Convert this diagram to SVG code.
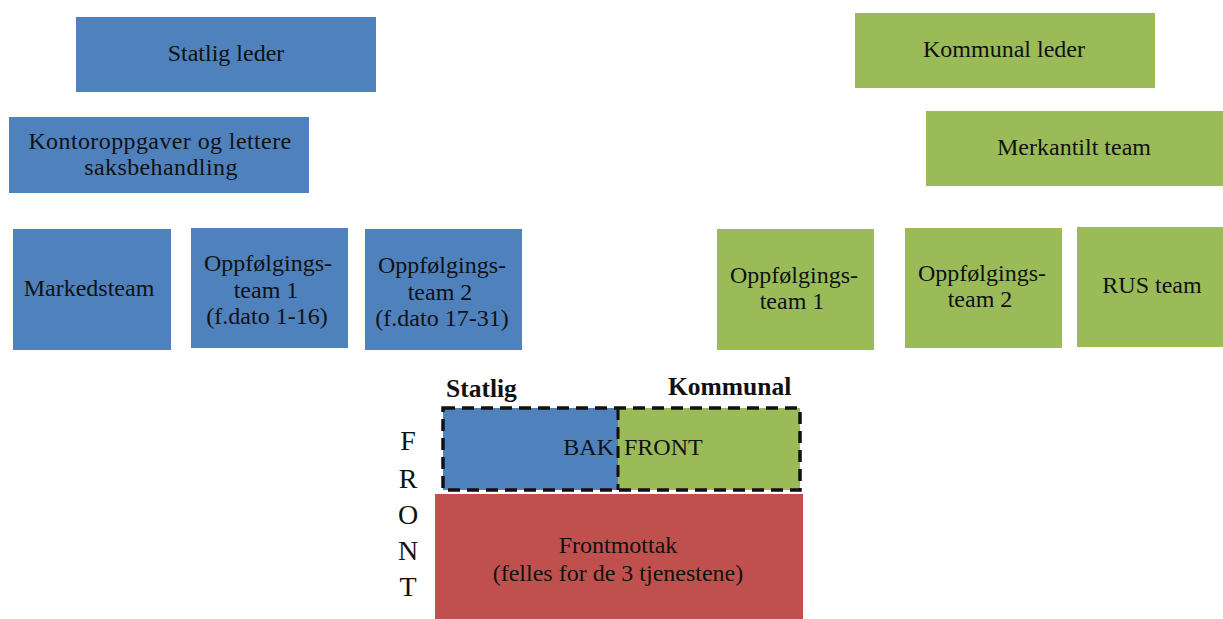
<svg xmlns="http://www.w3.org/2000/svg" width="1223" height="619" viewBox="0 0 1223 619">
<style>
.b{fill:#4F81BD}
.g{fill:#9BBB59}
.r{fill:#C0504D}
text{font-family:"Liberation Serif","Times New Roman",serif;font-size:24px;fill:#111;text-anchor:middle}
.hd{font-weight:bold;font-size:25.5px;text-anchor:start}
.fl{font-size:28px}
.dash{fill:none;stroke:#111;stroke-width:3.5;stroke-dasharray:12 7}
</style>
<rect width="1223" height="619" fill="#fff"/>
<g id="statlig-leder"><rect class="b" x="76" y="17" width="300" height="75"/><text x="226" y="61">Statlig leder</text></g>
<g id="kontoroppgaver"><rect class="b" x="9" y="117" width="300" height="76"/><text x="160" y="149" letter-spacing="0.4">Kontoroppgaver og lettere</text><text x="161" y="175" letter-spacing="0.4">saksbehandling</text></g>
<g id="markedsteam"><rect class="b" x="13" y="229" width="158" height="121"/><text x="89" y="296">Markedsteam</text></g>
<g id="stat-oppf1"><rect class="b" x="191" y="228" width="157" height="120"/><text x="268" y="271">Oppfølgings-</text><text x="266" y="298">team 1</text><text x="267" y="324">(f.dato 1-16)</text></g>
<g id="stat-oppf2"><rect class="b" x="365" y="229" width="157" height="121"/><text x="442" y="273">Oppfølgings-</text><text x="440" y="300">team 2</text><text x="442" y="326">(f.dato 17-31)</text></g>
<g id="kommunal-leder"><rect class="g" x="855" y="13" width="300" height="75"/><text x="1004" y="57">Kommunal leder</text></g>
<g id="merkantilt"><rect class="g" x="926" y="111" width="297" height="75"/><text x="1074" y="155">Merkantilt team</text></g>
<g id="kom-oppf1"><rect class="g" x="717" y="229" width="157" height="121"/><text x="794" y="283">Oppfølgings-</text><text x="792" y="309">team 1</text></g>
<g id="kom-oppf2"><rect class="g" x="905" y="228" width="157" height="120"/><text x="982" y="281">Oppfølgings-</text><text x="980" y="307">team 2</text></g>
<g id="rus"><rect class="g" x="1077" y="227" width="146" height="120"/><text x="1152" y="293">RUS team</text></g>
<g id="bak-front">
<rect class="b" x="443" y="408" width="175" height="82"/>
<rect class="g" x="618" y="408" width="182" height="82"/>
<rect class="dash" x="443" y="408" width="357" height="82"/>
<line x1="618" y1="408" x2="618" y2="490" stroke="#111" stroke-width="3" stroke-dasharray="12 7"/>
<text x="614" y="455" style="text-anchor:end">BAK</text>
<text x="624" y="455" style="text-anchor:start">FRONT</text>
<text class="hd" x="446" y="397">Statlig</text>
<text class="hd" x="668" y="395">Kommunal</text>
</g>
<g id="frontmottak"><rect class="r" x="435" y="494" width="368" height="125"/><text x="618" y="553">Frontmottak</text><text x="618" y="581">(felles for de 3 tjenestene)</text></g>
<g id="front-label">
<text class="fl" x="408" y="450">F</text><text class="fl" x="408" y="488">R</text><text class="fl" x="408" y="524">O</text><text class="fl" x="408" y="560">N</text><text class="fl" x="408" y="596">T</text>
</g>
<g id="connectors"></g>
</svg>
